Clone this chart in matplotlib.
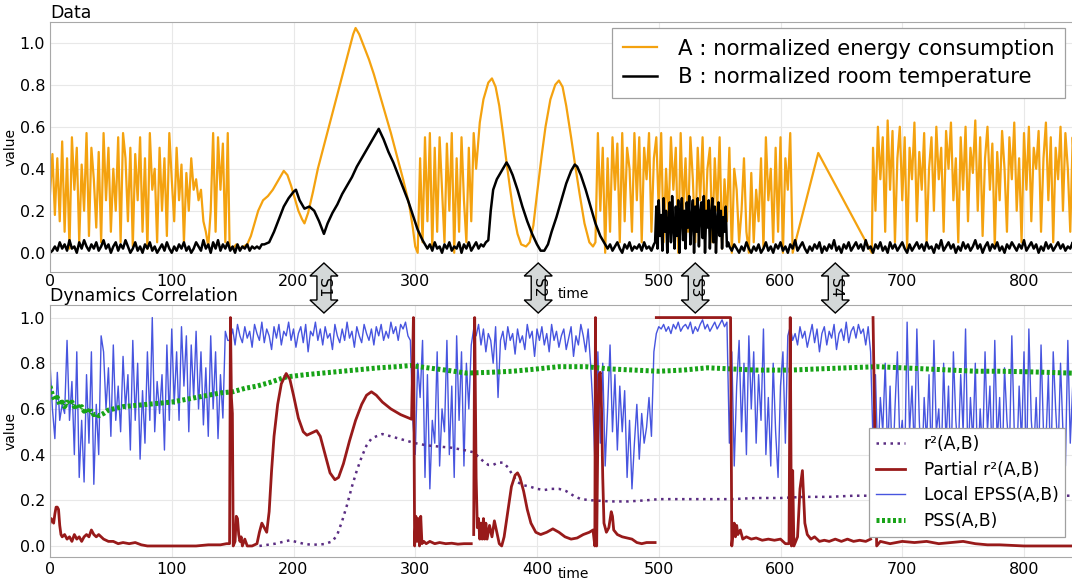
import numpy as np
import matplotlib
matplotlib.use("Agg")
import matplotlib.pyplot as plt
from matplotlib.patches import Polygon

# ---------------- data ----------------
# A : normalized energy consumption
a1_vals = [0.28,0.47,0.18,0.45,0.15,0.53,0.10,0.45,0.02,0.55,0.30,0.50,0.05,0.42,0.20,0.57,0.08,0.50,0.35,0.12,
           0.48,0.05,0.57,0.25,0.50,0.10,0.40,0.20,0.55,0.05,0.57,0.45,0.15,0.50,0.03,0.47,0.25,0.55,0.10,0.45,
           0.02,0.57,0.30,0.40,0.05,0.50,0.20,0.45,0.08,0.57,0.35,0.15,0.50,0.25,0.42,0.05,0.38,0.20,0.45,0.30,
           0.35,0.25,0.30,0.15,0.10,0.03,0.20,0.57,0.10,0.55,0.30,0.52,0.05,0.57]
a2_time = [147.5,150,153,156,159,162,165,168,171,175,179,183,187,190,192,195,198,201,204,207,209,212,216,220,
           225,230,235,240,245,249,251,254,258,262,266,270,275,280,285,290,295,298,300]
a2_vals = [0.03,0.02,0.04,0.02,0.03,0.04,0.08,0.14,0.20,0.25,0.27,0.30,0.34,0.37,0.39,0.37,0.32,0.26,0.20,0.16,
           0.14,0.19,0.29,0.40,0.51,0.62,0.73,0.84,0.95,1.04,1.07,1.04,0.98,0.92,0.85,0.77,0.67,0.57,0.46,0.35,
           0.23,0.12,0.03]
a3_vals = [0.0,0.45,0.05,0.55,0.15,0.57,0.02,0.50,0.10,0.55,0.30,0.05,0.52,0.20,0.57,0.0,0.45,0.10,0.55,0.25,
           0.05,0.50,0.15,0.57,0.40]
a4_time = [353,356,360,363,366,369,372,375,378,381,384,387,391,394,397,400,404,407,411,415,418,421,424,428,
           431,435,439,443,446]
a4_vals = [0.62,0.73,0.81,0.83,0.79,0.70,0.57,0.43,0.30,0.18,0.09,0.04,0.03,0.05,0.13,0.28,0.47,0.60,0.73,0.80,
           0.82,0.79,0.70,0.55,0.43,0.28,0.14,0.05,0.03]
a5_vals = [0.05,0.57,0.20,0.50,0.0,0.45,0.10,0.55,0.30,0.52,0.05,0.57,0.15,0.50,0.40,0.10,0.57,0.25,0.55,0.05,
           0.50,0.35,0.57,0.10,0.45,0.55,0.20,0.57,0.05,0.40,0.15,0.55,0.30,0.50,0.0,0.57,0.20,0.45,0.10,0.55,
           0.35,0.05,0.50,0.25,0.55,0.10,0.40,0.50,0.05,0.45,0.20,0.55,0.02,0.35,0.15,0.50,0.0,0.40,0.30,0.05,
           0.20,0.45,0.10,0.0,0.38,0.05,0.30,0.15,0.45,0.02,0.55,0.25,0.40,0.05,0.50,0.10,0.55,0.0,0.45,0.30,
           0.57,0.0]
a_tri_time = [631, 675]
a_tri_vals = [0.475, 0.0]
a6_vals = [0.50,0.20,0.60,0.35,0.55,0.10,0.63,0.30,0.58,0.05,0.45,0.60,0.25,0.55,0.02,0.50,0.35,0.62,0.15,0.48,
           0.30,0.57,0.05,0.40,0.55,0.20,0.60,0.35,0.50,0.10,0.58,0.40,0.62,0.25,0.45,0.05,0.55,0.30,0.60,0.15,
           0.50,0.38,0.63,0.20,0.55,0.08,0.45,0.60,0.30,0.52,0.03,0.48,0.25,0.58,0.40,0.10,0.55,0.35,0.62,0.20,
           0.45,0.05,0.57,0.30,0.60,0.15,0.50,0.40,0.58,0.10,0.45,0.62,0.25,0.55,0.05,0.50,0.35,0.60,0.20,0.57,
           0.40,0.10,0.55,0.30,0.63,0.25,0.50,0.45]

# B : normalized room temperature
b1_vals = [0.00,0.01,0.03,0.01,0.05,0.02,0.04,0.01,0.06,0.02,0.03,0.00,0.05,0.02,0.06,0.03,0.01,0.04,0.02,0.05,
           0.01,0.03,0.06,0.02,0.04,0.00,0.03,0.05,0.01,0.04,0.02,0.06,0.03,0.00,0.02,0.05,0.01,0.03,0.00,0.04,
           0.02,0.05,0.01,0.03,0.00,0.02,0.04,0.01,0.05,0.02,0.00,0.03,0.01,0.04,0.02,0.05,0.01,0.03,0.00,0.02,
           0.05,0.03,0.01,0.06,0.02,0.04,0.00,0.05,0.02,0.06,0.01,0.04,0.02,0.05,0.01,0.03,0.00,0.04,0.01,0.03,
           0.02,0.04,0.01,0.03,0.02,0.03,0.02,0.04]
b2_time = [176,180,184,188,192,196,200,202,205,209,213,217,221,225,228,232,236,240,244,248,252,256,260,264,
           268,270,274,278,282,286,290,294,298,302,306,309]
b2_vals = [0.04,0.05,0.10,0.16,0.22,0.26,0.29,0.30,0.25,0.21,0.22,0.20,0.15,0.09,0.14,0.19,0.23,0.28,0.32,0.36,
           0.41,0.45,0.49,0.53,0.57,0.59,0.54,0.48,0.43,0.37,0.31,0.25,0.18,0.11,0.06,0.03]
b3_vals = [0.02,0.04,0.01,0.05,0.02,0.03,0.00,0.04,0.02,0.05,0.01,0.03,0.02,0.05,0.00,0.04,0.02,0.05,0.01,0.03,
           0.05,0.02,0.04,0.03,0.05]
b4_time = [360,362,364,367,370,373,375,377,380,384,388,392,396,400,403,406,409,412,416,420,424,428,431,433,
           436,440,444,448,452,456]
b4_vals = [0.06,0.20,0.30,0.35,0.38,0.41,0.43,0.41,0.37,0.30,0.22,0.15,0.09,0.04,0.01,0.01,0.04,0.10,0.17,0.25,
           0.33,0.39,0.42,0.41,0.37,0.30,0.22,0.14,0.08,0.04]
b5_vals = [0.02,0.04,0.01,0.03,0.05,0.02,0.00,0.04,0.02,0.05,0.01,0.03,0.02,0.04,0.01,0.05,0.02,0.03,0.01,0.04]
b6_vals = [0.05,0.22,0.02,0.25,0.08,0.18,0.01,0.26,0.10,0.20,0.0,0.15,0.24,0.05,0.27,0.12,0.02,0.22,0.08,0.25,
           0.0,0.18,0.26,0.06,0.20,0.02,0.24,0.12,0.27,0.04,0.16,0.25,0.0,0.22,0.10,0.26,0.03,0.19,0.24,0.07,
           0.27,0.0,0.20,0.12,0.25,0.02,0.18,0.26,0.05,0.22,0.0,0.15,0.24,0.08,0.20,0.02,0.17,0.10,0.22,0.03,
           0.05]
b7_vals = [0.03,0.01,0.04,0.02,0.00,0.03,0.01,0.05,0.02,0.00,0.03,0.01,0.04,0.00,0.02,0.05,0.01,0.03,0.00,0.04,
           0.02,0.05,0.01,0.03,0.00,0.04,0.02,0.06,0.01,0.03,0.05,0.02,0.00,0.03,0.01,0.04,0.02,0.05,0.00,0.03,
           0.01,0.04,0.02,0.06,0.01,0.03,0.00,0.04,0.02,0.05,0.01,0.03,0.05,0.02,0.04,0.01,0.06,0.02,0.03,0.00,
           0.04,0.02,0.05,0.01,0.03,0.00,0.05,0.02,0.04,0.01,0.03,0.05,0.02,0.00,0.04,0.01,0.03,0.05,0.02,0.04,
           0.01,0.05,0.02,0.03,0.00,0.04,0.02,0.06,0.01,0.03,0.05,0.02,0.04,0.00,0.03,0.01,0.05,0.02,0.04,0.01,
           0.03,0.06,0.02,0.04,0.00,0.03,0.05,0.01,0.04,0.02,0.05,0.01,0.03,0.00,0.04,0.02,0.05,0.03,0.01,0.04,
           0.02,0.06,0.01,0.03,0.05,0.02,0.04,0.00,0.03,0.01,0.05,0.02,0.04,0.01,0.03,0.05,0.02,0.04,0.01,0.03,
           0.02,0.05,0.01,0.04,0.02,0.03,0.04]

# Partial r2(A,B)  (nan = gap)
nan = np.nan
pr2_time = [0,1,2,3,4,5,6,7,8,9,10,12,14,16,18,20,22,24,26,28,30,32,34,36,38,40,44,48,52,56,60,65,70,75,80,90,100,
            110,120,130,140,145,147.5,148.2,149.0,149.8,150.5,152,153,154,155,156,157,158,160,162,166,170,172,174,
            176,178,180,182,184,187,190,194,197,200,204,208,211,215,219,222,226,230,234,237,241,246,251,256,260,
            264,268,273,280,288,297,
            298.5,299.5,300.5,301.5,302.5,303.5,304.5,305.5,307,309,312,316,320,325,330,335,340,346,347,
            348,348.8,350,351,352,353,354,355,356,357,358,359,361,363,365,367,369,371,373,376,379,382,384,386,389,
            392,395,399,403,408,413,418,423,428,433,438,443,446,447.5,448,449,450,451,452,453,454,455,457,459,461,
            462,463,466,470,474,478,482,486,490,494,497,497.5,
            498,559,560,561,562,563,564,565,567,569,572,576,580,585,590,595,600,604,607,608,609,610,611,614,616,618,
            620,622,625,628,632,636,640,645,650,655,660,665,670,674,675,
            676,679,682,690,700,710,720,730,740,750,760,770,780,800,820,850]
pr2_vals = [0.10,0.12,0.11,0.10,0.14,0.17,0.17,0.16,0.09,0.05,0.04,0.05,0.03,0.04,0.02,0.05,0.03,0.04,0.02,0.04,
            0.05,0.04,0.07,0.05,0.04,0.05,0.03,0.02,0.02,0.01,0.015,0.01,0.015,0.005,0.0,0.0,0.0,0.0,0.0,0.005,
            0.005,0.01,0.01,1.0,0.65,0.58,0.0,0.02,0.13,0.12,0.05,0.02,0.04,0.0,0.03,0.0,0.0,0.01,0.06,0.10,0.08,
            0.06,0.15,0.33,0.48,0.62,0.71,0.755,0.73,0.66,0.56,0.50,0.485,0.495,0.505,0.48,0.40,0.32,0.29,0.30,0.36,
            0.46,0.55,0.62,0.66,0.675,0.66,0.63,0.60,0.575,0.555,
            1.0,0.0,0.13,0.02,0.12,0.0,0.13,0.01,0.02,0.01,0.02,0.01,0.015,0.01,0.012,0.008,0.01,0.01,nan,
            0.05,1.0,0.30,0.08,0.12,0.03,0.10,0.03,0.12,0.03,0.10,0.03,0.09,0.04,0.11,0.06,0.01,0.0,0.04,0.15,0.26,
            0.31,0.32,0.30,0.24,0.16,0.10,0.06,0.05,0.06,0.075,0.06,0.04,0.03,0.035,0.05,0.06,0.07,0.0,1.0,0.0,0.5,
            0.75,0.76,0.60,0.30,0.10,0.06,0.08,0.15,0.13,0.07,0.05,0.04,0.035,0.03,0.015,0.01,0.015,0.015,0.015,nan,
            1.0,1.0,0.0,0.06,0.10,0.04,0.09,0.05,0.07,0.03,0.04,0.03,0.035,0.025,0.03,0.025,0.03,0.01,0.01,1.0,0.0,
            0.33,0.0,0.04,0.25,0.33,0.10,0.05,0.03,0.04,0.02,0.025,0.02,0.03,0.02,0.03,0.02,0.025,0.02,0.03,nan,
            1.0,0.0,0.02,0.01,0.02,0.015,0.02,0.01,0.015,0.02,0.01,0.005,0.005,0.0,0.0,0.0]

# r2(A,B)
r2_time = [172,185,197,208,215,225,232,236,240,244,248,252,256,260,264,268,273,280,290,300,310,320,330,340,348,
           352,356,360,364,368,372,376,380,384,388,394,400,406,412,418,424,430,436,445,460,475,490,500,520,540,
           560,580,600,620,640,660,680,700,740,780,850]
r2_vals = [0.0,0.01,0.025,0.01,0.005,0.008,0.02,0.05,0.11,0.18,0.26,0.33,0.39,0.44,0.47,0.48,0.49,0.48,0.465,
           0.45,0.44,0.435,0.43,0.42,0.41,0.39,0.37,0.355,0.355,0.365,0.365,0.345,0.31,0.28,0.267,0.26,0.25,0.245,
           0.25,0.25,0.24,0.22,0.205,0.20,0.195,0.195,0.20,0.205,0.205,0.205,0.205,0.21,0.21,0.215,0.215,0.22,0.22,
           0.22,0.22,0.22,0.22]

# Local EPSS(A,B)  (segments, step 2)
e1_vals = [0.80,0.60,0.47,0.76,0.55,0.62,0.58,0.90,0.55,0.72,0.40,0.85,0.30,0.55,0.28,0.75,0.45,0.85,0.27,0.62,
           0.40,0.92,0.85,0.60,0.78,0.48,0.88,0.55,0.70,0.50,0.83,0.60,0.75,0.42,0.90,0.55,0.80,0.38,0.68,0.45,
           0.85,0.55,1.00,0.50,0.72,0.58,0.75,0.42,0.88,0.55,0.95,0.62,0.85,0.55,0.96,0.70,0.92,0.50,0.88,0.65,
           0.94,0.60,0.85,0.53,0.78,0.48,0.92,0.60,0.85,0.47,0.75,0.56,0.94,0.90]
e2_vals = [0.90,0.95,0.88,0.97,0.92,0.89,0.96,0.91,0.94,0.87,0.97,0.93,0.90,0.98,0.89,0.95,0.92,0.86,0.96,0.91,
           0.97,0.88,0.94,0.92,0.98,0.90,0.95,0.87,0.93,0.96,0.89,0.97,0.85,0.94,0.92,0.98,0.90,0.95,0.88,0.96,
           0.91,0.93,0.86,0.97,0.92,0.89,0.95,0.90,0.98,0.91,0.94,0.87,0.96,0.92,0.89,0.97,0.93,0.90,0.95,0.88,
           0.96,0.92,0.97,0.90,0.94,0.91,0.98,0.93,0.96,0.90,0.97,0.95,0.98,0.92,0.90]
e3_vals = [0.55,0.40,0.80,0.65,0.90,0.30,0.75,0.25,0.55,0.45,0.85,0.35,0.60,0.50,0.90,0.40,0.70,0.30,0.92,0.55,
           0.85,0.35,0.80,0.60,0.88,0.95]
e4_vals = [0.92,0.97,0.88,0.95,0.85,0.93,0.90,0.80,0.96,0.65,0.90,0.94,0.86,0.96,0.90,0.93,0.84,0.95,0.89,0.92,
           0.86,0.97,0.91,0.94,0.83,0.95,0.90,0.96,0.88,0.93,0.85,0.97,0.90,0.94,0.87,0.92,0.95,0.86,0.91,0.96,
           0.83,0.92,0.88,0.97,0.92,0.85,0.95,0.80,0.60]
e5_vals = [0.30,0.85,0.45,0.80,0.35,0.60,0.88,0.50,0.75,0.42,0.70,0.50,0.68,0.30,0.55,0.25,0.45,0.62,0.38,0.58,
           0.45,0.52,0.65,0.48,0.85]
e6_vals = [0.93,0.96,0.95,0.97,0.94,0.96,0.93,0.97,0.95,0.98,0.94,0.96,0.97,0.95,0.98,0.93,0.96,0.94,0.97,0.99,
           0.95,0.97,0.94,0.96,0.98,0.95,0.97,0.99,0.96,0.98]
e7_vals = [0.45,0.85,0.35,0.70,0.90,0.50,0.80,0.40,0.92,0.60,0.85,0.45,0.75,0.55,0.95,0.40,0.65,0.35,0.80,0.50,
           0.30,0.70,0.85,0.45,0.92,0.96]
e8_vals = [0.90,0.93,0.88,0.96,0.91,0.94,0.87,0.92,0.97,0.89,0.95,0.85,0.93,0.96,0.88,0.94,0.91,0.97,0.86,0.93,
           0.95,0.90,0.98,0.89,0.94,0.96,0.91,0.97,0.93,0.95,0.88,0.96,0.85]
e9_vals = [0.45,0.75,0.35,0.65,0.50,0.80,0.40,0.70,0.30,0.60,0.85,0.45,0.55,0.35,0.98,0.50,0.70,0.40,0.95,0.55,
           0.30,0.65,0.45,0.75,0.35,0.90,0.50,0.60,0.35,0.80,0.45,0.70,0.30,0.85,0.55,0.40,0.75,0.50,0.95,0.35,
           0.65,0.45,0.80,0.30,0.60,0.40,0.85,0.50,0.70,0.35,0.90,0.45,0.65,0.30,0.78,0.55,0.40,0.92,0.50,0.35,
           0.70,0.45,0.85,0.30,0.95,0.55,0.40,0.65,0.35,0.88,0.50,0.45,0.75,0.30,0.85,0.60,0.40,0.80,0.50,0.35,
           0.90,0.45,0.70,0.55,0.62,0.40,0.75,0.58]
epss_starts = [0, 148, 298, 350, 448, 498, 558, 610, 676]

# PSS(A,B)
pss_time = [0,2,4,6,8,10,12,14,16,18,20,22,24,26,28,30,32,34,36,38,40,42,44,48,52,60,70,80,90,100,110,120,130,
            140,150,160,170,180,194,210,230,250,270,285,296,310,325,342,360,380,400,418,440,460,480,500,520,540,
            560,580,608,630,655,679,700,720,740,760,780,800,820,838,850]
pss_vals = [0.70,0.66,0.64,0.65,0.62,0.63,0.61,0.63,0.62,0.63,0.61,0.62,0.60,0.61,0.59,0.60,0.58,0.59,0.575,0.58,
            0.57,0.575,0.58,0.595,0.60,0.61,0.615,0.62,0.625,0.63,0.64,0.65,0.66,0.67,0.675,0.69,0.70,0.715,0.74,
            0.75,0.76,0.77,0.78,0.785,0.79,0.78,0.77,0.757,0.76,0.765,0.775,0.785,0.785,0.775,0.77,0.765,0.77,0.78,
            0.775,0.77,0.77,0.775,0.78,0.785,0.78,0.775,0.77,0.765,0.765,0.763,0.76,0.757,0.755]

arrow_times = [225, 401, 530, 645]
arrow_labels = ["S1", "S2", "S3", "S4"]
top_tick_hidden = [400]   # covered by the S2 arrow in the reference

# ---------------- assemble ----------------
def steps(t0, vals, step=2):
    return list(t0 + step * np.arange(len(vals))), list(vals)

def join(*parts):
    t, v = [], []
    for pt, pv in parts:
        t += list(pt); v += list(pv)
    return np.array(t, float), np.array(v, float)

a_t, a_v = join(steps(0, a1_vals), (a2_time, a2_vals), steps(302, a3_vals), (a4_time, a4_vals),
                steps(448, a5_vals), (a_tri_time, a_tri_vals), steps(676, a6_vals))
b_t, b_v = join(steps(0, b1_vals), (b2_time, b2_vals), steps(310, b3_vals), (b4_time, b4_vals),
                steps(458, b5_vals), steps(497, b6_vals, 1), steps(558, b7_vals))
e_parts = [e1_vals, e2_vals, e3_vals, e4_vals, e5_vals, e6_vals, e7_vals, e8_vals, e9_vals]
e_t, e_v = join(*[steps(s, v) for s, v in zip(epss_starts, e_parts)])

# ---------------- figure ----------------
W, H = 1072, 580
fig = plt.figure(figsize=(W / 100, H / 100), dpi=100)
XMAX = 860
ax_w = XMAX * 1.2175 / W
ax1 = fig.add_axes([50 / W, 1 - 271.7 / H, ax_w, (271.7 - 21.7) / H])
ax2 = fig.add_axes([50 / W, 1 - 556.7 / H, ax_w, (556.7 - 305) / H])

orange = '#f4a20f'
ax1.plot(a_t, a_v, color=orange, lw=1.6, label='A : normalized energy consumption')
ax1.plot(b_t, b_v, color='black', lw=1.8, label='B : normalized room temperature')
ax1.set_ylim(-0.09, 1.1)

l_epss, = ax2.plot(e_t, e_v, color='#3342dc', lw=1.0, alpha=0.9, label='Local EPSS(A,B)')
l_pss, = ax2.plot(pss_time, pss_vals, color='#17a317', lw=3.6, dashes=(0.6, 0.5),
                  label='PSS(A,B)', solid_capstyle='butt', dash_capstyle='butt')
l_r2, = ax2.plot(r2_time, r2_vals, color='#5a2d82', lw=1.8, dashes=(1.0, 1.8), label='r²(A,B)')
l_pr2, = ax2.plot(pr2_time, pr2_vals, color='#981a1a', lw=2.0, label='Partial r²(A,B)')
ax2.set_ylim(-0.047, 1.055)

xt = np.arange(0, 801, 100)
for ax in (ax1, ax2):
    ax.set_xlim(0, XMAX)
    ax.set_xticks(xt)
    ax.set_yticks(np.arange(0, 1.01, 0.2))
    ax.set_yticklabels([f'{y:.1f}' for y in np.arange(0, 1.01, 0.2)])
    ax.grid(True, color='#e8e8e8', lw=0.8)
    ax.set_axisbelow(True)
    ax.tick_params(length=0, labelsize=11.5, pad=3.5)
    for s in ax.spines.values():
        s.set_color('#a8a8a8')
    ax.set_ylabel('value', fontsize=10)
    ax.yaxis.set_label_coords(-0.031, 0.5)

ax1.tick_params(axis='x', pad=2)
ax1.set_xticklabels(['' if t in top_tick_hidden else str(t) for t in xt])
ax1.set_xlabel('time', fontsize=10, labelpad=-2)
ax2.set_xlabel('time', fontsize=10, labelpad=-7)
ax1.set_title('Data', loc='left', fontsize=12.5, pad=2)
ax2.set_title('Dynamics Correlation', loc='left', fontsize=12.5, pad=2)

leg1 = fig.legend(handles=ax1.get_lines(), loc='upper left', bbox_to_anchor=(612 / W, 1 - 28 / H),
                  borderaxespad=0, fontsize=15.3, handlelength=1.6, handletextpad=1.0, labelspacing=0.4,
                  borderpad=0.5, fancybox=False, framealpha=1, edgecolor='#a0a0a0')
leg2 = fig.legend(handles=[l_r2, l_pr2, l_epss, l_pss], loc='upper left', bbox_to_anchor=(869 / W, 1 - 428 / H),
                  borderaxespad=0, fontsize=12.3, handlelength=1.7, handletextpad=1.1, labelspacing=0.45,
                  borderpad=0.4, fancybox=False, framealpha=1, edgecolor='#a0a0a0')
leg1.get_frame().set_linewidth(0.9)
leg2.get_frame().set_linewidth(0.9)

# double-headed arrows between the panels
cy = 288.0
shape = [(0, 25), (14, 12), (7, 12), (7, -12), (14, -12), (0, -25), (-14, -12), (-7, -12), (-7, 12), (-14, 12)]
for t, lab in zip(arrow_times, arrow_labels):
    cx = ax2.transData.transform((t, 0))[0]
    verts = [((cx + dx) / W, 1 - (cy - dy) / H) for dx, dy in shape]
    fig.add_artist(Polygon(verts, closed=True, transform=fig.transFigure, facecolor='#d4d8d8',
                           edgecolor='black', lw=1.0, zorder=5))
    fig.text(cx / W, 1 - cy / H, lab, rotation=270, ha='center', va='center', fontsize=11, zorder=6)

fig.savefig('out.png', dpi=100)
